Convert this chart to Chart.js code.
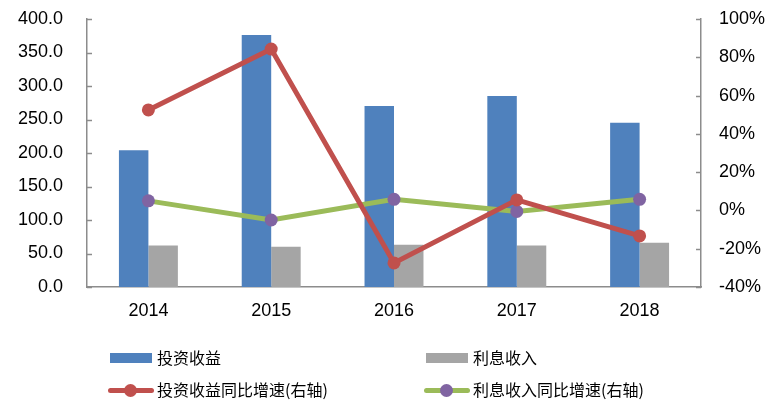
<!DOCTYPE html>
<html><head><meta charset="utf-8">
<script src="https://cdn.jsdelivr.net/npm/chart.js@4"></script>
<style>
html,body{margin:0;padding:0;background:#fff;}
#wrap{position:relative;width:783px;height:415px;}
canvas{position:absolute;left:0;top:0;}
.lg{position:absolute;font-family:"Noto Sans CJK SC",sans-serif;font-size:16px;color:#000;line-height:20px;white-space:nowrap;}
.sw{position:absolute;}
</style></head>
<body><div id="wrap"><canvas id="c" width="783" height="415"></canvas>
<div id="legend"></div></div>
<script>
const categories = ["2014","2015","2016","2017","2018"];
const investIncome = [204, 376, 270, 285, 245];
const interestIncome = [62, 60, 63, 62, 66];
const investGrowth = [52.5, 84.3, -27.4, 5.5, -13.3];
const interestGrowth = [5.0, -5.0, 5.8, -0.5, 5.8];
const leftTicks = [0,50,100,150,200,250,300,350,400];
const rightTicks = [-40,-20,0,20,40,60,80,100];
const names = ["投资收益","利息收入","投资收益同比增速(右轴)","利息收入同比增速(右轴)"];

const blue="#4F81BD", gray="#A5A5A5", red="#C0504D", green="#9BBB59", purple="#8064A2";
const axisColor="#8C8C8C";
const tickFont={family:"'Liberation Sans', Arial, sans-serif", size:18};

// inward tick marks on the value axes
const innerTicks={id:'innerTicks',afterDraw(chart){
  const ctx=chart.ctx;ctx.save();ctx.strokeStyle=axisColor;ctx.lineWidth=1.5;
  [['y',1],['y2',-1]].forEach(([id,dir])=>{
    const s=chart.scales[id];const x0=dir>0?s.right:s.left;
    s.ticks.forEach(t=>{const y=Math.round(s.getPixelForValue(t.value))+0.5;
      ctx.beginPath();ctx.moveTo(x0,y);ctx.lineTo(x0+dir*5,y);ctx.stroke();});
  });
  ctx.restore();
}};

new Chart(document.getElementById('c'),{
  data:{labels:categories,datasets:[
    {type:'bar',label:names[0],data:investIncome,backgroundColor:blue,yAxisID:'y',order:2,categoryPercentage:0.48,barPercentage:1},
    {type:'bar',label:names[1],data:interestIncome,backgroundColor:gray,yAxisID:'y',order:2,categoryPercentage:0.48,barPercentage:1},
    {type:'line',label:names[2],data:investGrowth,borderColor:red,backgroundColor:red,borderWidth:5,pointRadius:6.5,pointBackgroundColor:red,pointBorderColor:red,pointBorderWidth:0,yAxisID:'y2',order:0,tension:0},
    {type:'line',label:names[3],data:interestGrowth,borderColor:green,backgroundColor:purple,borderWidth:5,pointRadius:6.5,pointBackgroundColor:purple,pointBorderColor:purple,pointBorderWidth:0,yAxisID:'y2',order:1,tension:0}
  ]},
  options:{
    responsive:false,animation:false,
    layout:{padding:{top:19,bottom:88,left:0,right:0}},
    plugins:{legend:{display:false},tooltip:{enabled:false}},
    scales:{
      x:{grid:{display:false,drawTicks:false},border:{display:true,color:axisColor,width:1.5},
         ticks:{font:tickFont,color:'#000',padding:13},
         afterFit:s=>{s.height=40;}},
      y:{position:'left',min:0,max:400,
         afterBuildTicks:s=>{s.ticks=leftTicks.map(v=>({value:v}));},
         ticks:{font:tickFont,color:'#000',padding:6,callback:v=>v.toFixed(1)},
         grid:{display:false,drawTicks:true,tickLength:18},
         border:{display:true,color:axisColor,width:1.5},
         afterFit:s=>{s.width=87;}},
      y2:{position:'right',min:-40,max:100,
         afterBuildTicks:s=>{s.ticks=rightTicks.map(v=>({value:v}));},
         ticks:{font:tickFont,color:'#000',padding:6,callback:v=>v+'%'},
         grid:{display:false,drawTicks:true,tickLength:12},
         border:{display:true,color:axisColor,width:1.5},
         afterFit:s=>{s.width=82;}}
    }
  },
  plugins:[innerTicks]
});

// HTML legend
const lg=document.getElementById('legend');
const items=[
  {x:110,y:358,kind:'bar',color:blue,text:names[0]},
  {x:426,y:358,kind:'bar',color:gray,text:names[1]},
  {x:108,y:390,kind:'line',color:red,pt:red,text:names[2]},
  {x:424,y:390,kind:'line',color:green,pt:purple,text:names[3]}
];
items.forEach(it=>{
  if(it.kind==='bar'){
    const d=document.createElement('div');d.className='sw';
    d.style.cssText=`left:${it.x}px;top:${it.y-5}px;width:42px;height:10px;background:${it.color};`;
    lg.appendChild(d);
  }else{
    const d=document.createElement('div');d.className='sw';
    d.style.cssText=`left:${it.x}px;top:${it.y-2.5}px;width:46px;height:5px;background:${it.color};border-radius:2.5px;`;
    lg.appendChild(d);
    const p=document.createElement('div');p.className='sw';
    p.style.cssText=`left:${it.x+16}px;top:${it.y-6.5}px;width:13px;height:13px;border-radius:6.5px;background:${it.pt};`;
    lg.appendChild(p);
  }
  const t=document.createElement('div');t.className='lg';
  t.style.left=(it.kind==='bar'?it.x+47:it.x+49)+'px';t.style.top=(it.y-11)+'px';t.textContent=it.text;
  lg.appendChild(t);
});
</script></body></html>
